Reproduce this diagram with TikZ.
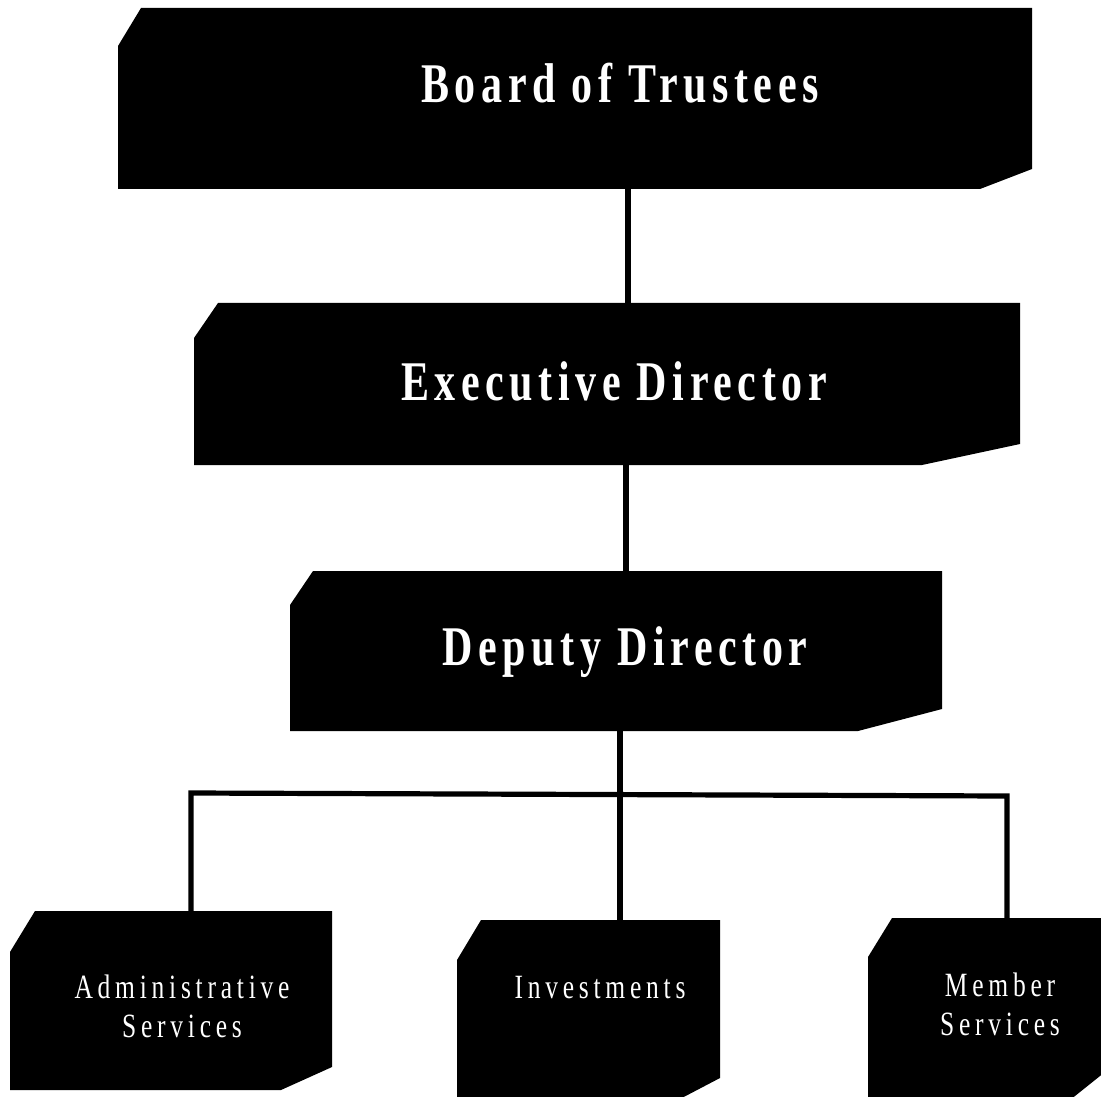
\documentclass[tikz,border=0pt]{standalone}
\usepackage{fontspec}
\usepackage{tikz}
\usetikzlibrary{fit}
\newfontfamily\headfont[FakeStretch=0.75, LetterSpace=10]{Liberation Serif}
\newfontfamily\deptfont[FakeStretch=0.75, LetterSpace=14]{Liberation Serif}
\tikzstyle{unit} = [inner sep=0pt, outer sep=0pt]
\tikzstyle{link} = [line width=2.6pt]

\begin{document}
\begin{tikzpicture}[
        x=0.5pt, y=-0.5pt,
        title/.style={anchor=base, text=white, font=\headfont\bfseries\fontsize{28}{32}\selectfont},
        dept/.style={anchor=base, text=white, align=center, font=\deptfont\fontsize{17}{19.5}\selectfont}
    ]
    \clip (0,0) rectangle (1101,1096);

    % Boxes
    \foreach \nm/\l/\t/\r/\b/\ax/\ay/\bx/\by in {
            board/118/8/1032/189/23/38/52/20,
            exec/194/303/1020/465/24/35/98/21,
            deputy/290/571/942/731/23/34/84/22,
            admin/10/911/332/1090/25/41/51/23,
            invest/457/920/720/1100/24/40/42/22,
            member/868/918/1110/1100/24/39/40/32}{
        \fill (\l,\t+\ay) -- (\l+\ax,\t) -- (\r,\t) -- (\r,\b-\by) -- (\r-\bx,\b) -- (\l,\b) -- cycle;
        \node[unit, fit={(\l,\t) (\r,\b)}] (\nm) {};
    }

    % Labels (two-line ones sit on their last baseline)
    \node[title] (boardtext) at (620,103) {Board of Trustees};
    \node[title] (exectext) at (614,400) {Executive Director};
    \node[title] (deputytext) at (625,665) {Deputy Director};
    \node[dept] (admintext) at (182,1037) {Administrative\\Services};
    \node[dept] (investtext) at (600,998) {Investments};
    \node[dept] (membertext) at (1000,1035) {Member\\Services};

    % Connectors
    \coordinate (upper) at (628,0);
    \coordinate (middle) at (626,0);
    \coordinate (lower) at (620,0);
    \coordinate (busL) at (191,793);
    \coordinate (busR) at (1007,796);
    \draw[link] (board.south -| upper) -- (exec.north -| upper);
    \draw[link] (exec.south -| middle) -- (deputy.north -| middle);
    \draw[link] (deputy.south -| lower) -- (invest.north -| lower);
    \draw[link] (admin.north -| busL) -- (busL) -- (busR) -- (member.north -| busR);

\end{tikzpicture}
\end{document}
